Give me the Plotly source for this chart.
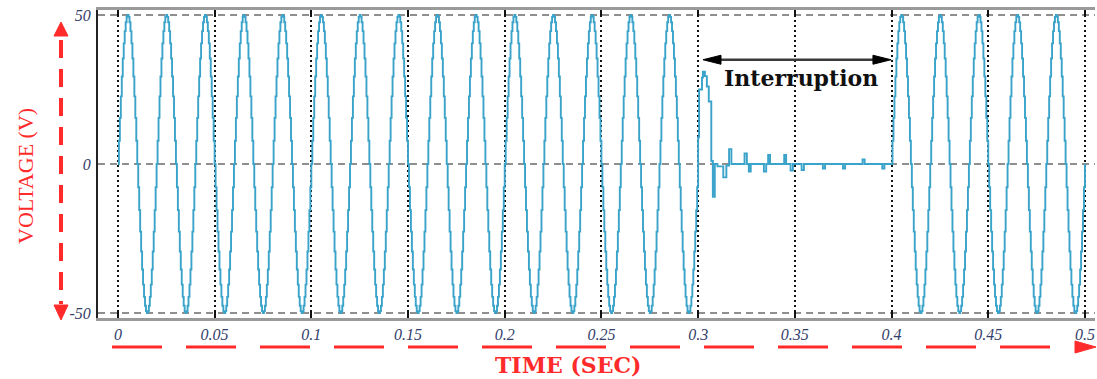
import numpy as np
import plotly.graph_objects as go

# ---------------- data ----------------
sample_step = 0.0005          # s, zero-order-hold sampling of the waveform
# one 50 Hz cycle of the sampled supply voltage (V), 40 samples
cycle_values = [0.0, 7.8, 15.5, 22.7, 29.4, 35.4, 40.5, 44.6, 47.6, 49.4,
                50.0, 49.4, 47.6, 44.6, 40.5, 35.4, 29.4, 22.7, 15.5, 7.8,
                0.0, -7.8, -15.5, -22.7, -29.4, -35.4, -40.5, -44.6, -47.6, -49.4,
                -50.0, -49.4, -47.6, -44.6, -40.5, -35.4, -29.4, -22.7, -15.5, -7.8]
cycles_before = 15            # 0 .. 0.3 s
cycles_after = 5              # 0.4 .. 0.5 s
interruption_start = 0.3
interruption_end = 0.4

# transient / ringing during the interruption
trans_t = [0.3000, 0.3005, 0.3020, 0.3025, 0.3035, 0.3045, 0.3055, 0.3068, 0.3076,
           0.3086, 0.3100, 0.3130, 0.3146, 0.3160, 0.3172, 0.3240, 0.3252, 0.3262,
           0.3272, 0.3340, 0.3352, 0.3362, 0.3372, 0.3445, 0.3455, 0.3478, 0.3490,
           0.3535, 0.3547, 0.3645, 0.3656, 0.3749, 0.3760, 0.3850, 0.3861, 0.3952,
           0.3963]
trans_v = [9.0, 25.0, 29.0, 31.0, 29.5, 26.0, 21.0, 1.0, -11.0,
           0.0, -0.8, -4.5, -0.5, 5.0, 0.0, 3.5, 0.0, -2.5,
           0.0, -2.5, 0.0, 3.0, 0.0, 3.0, 0.0, -2.2, 0.0,
           -2.0, 0.0, -1.5, 0.0, -1.5, 0.0, 1.5, 0.0, -1.5,
           0.0]

x_tick_vals = [0, 0.05, 0.1, 0.15, 0.2, 0.25, 0.3, 0.35, 0.4, 0.45, 0.5]
x_tick_text = ["0", "0.05", "0.1", "0.15", "0.2", "0.25", "0.3", "0.35", "0.4", "0.45", "0.5"]
y_tick_vals = [-50, 0, 50]
y_tick_text = ["-50", "0", "50"]

# ---------------- build series ----------------
pre_v = cycle_values * cycles_before
pre_t = list(np.round(np.arange(len(pre_v)) * sample_step, 4))
post_v = cycle_values * cycles_after + [0.0]
post_t = list(np.round(interruption_end + np.arange(len(post_v)) * sample_step, 4))

t_all = pre_t + trans_t + post_t
v_all = pre_v + trans_v + post_v

# ---------------- layout geometry ----------------
W, H = 1097, 379
ML, MR, MT, MB = 98, 2, 10, 61
PW, PH = W - ML - MR, H - MT - MB


def px(x):
    return (x - ML) / PW


def py(y):
    return (H - MB - y) / PH


RED = "#ff2b2b"
LINE = "#3aa3ca"

fig = go.Figure()
fig.add_trace(go.Scatter(x=t_all, y=v_all, mode="lines",
                         line=dict(color=LINE, width=1.9, shape="hv"),
                         hoverinfo="skip", showlegend=False))

shapes = []
# interruption double arrow (data coords)
arr_y = 35
xs_per_px = (0.5 + 0.0103 + 0.0052) / PW
ys_per_px = 103.4 / PH
head_len = 18 * xs_per_px
head_half = 4.5 * ys_per_px
a0 = interruption_start + 0.0025
a1 = interruption_end - 0.0003
shapes.append(dict(type="line", xref="x", yref="y", x0=a0 + head_len * 0.5, x1=a1 - head_len * 0.5,
                   y0=arr_y, y1=arr_y, line=dict(color="#3a3a3a", width=2.5)))
shapes.append(dict(type="path", xref="x", yref="y",
                   path=f"M {a0},{arr_y} L {a0 + head_len},{arr_y + head_half} L {a0 + head_len},{arr_y - head_half} Z",
                   fillcolor="black", line=dict(color="black", width=1)))
shapes.append(dict(type="path", xref="x", yref="y",
                   path=f"M {a1},{arr_y} L {a1 - head_len},{arr_y + head_half} L {a1 - head_len},{arr_y - head_half} Z",
                   fillcolor="black", line=dict(color="black", width=1)))

# red dashed horizontal arrow (time)
shapes.append(dict(type="line", xref="paper", yref="paper",
                   x0=px(112), x1=px(1074), y0=py(347), y1=py(347),
                   line=dict(color=RED, width=3, dash="50px,24px")))
shapes.append(dict(type="path", xref="paper", yref="paper",
                   path=f"M {px(1096)},{py(347)} L {px(1075)},{py(341)} L {px(1075)},{py(353)} Z",
                   fillcolor=RED, line=dict(color=RED, width=1)))
# red dashed vertical arrow (voltage)
shapes.append(dict(type="line", xref="paper", yref="paper",
                   x0=px(61), x1=px(61), y0=py(40), y1=py(304),
                   line=dict(color=RED, width=4, dash="18px,11px")))
shapes.append(dict(type="path", xref="paper", yref="paper",
                   path=f"M {px(61)},{py(22)} L {px(54)},{py(36)} L {px(68)},{py(36)} Z",
                   fillcolor=RED, line=dict(color=RED, width=1)))
shapes.append(dict(type="path", xref="paper", yref="paper",
                   path=f"M {px(61)},{py(320)} L {px(54)},{py(305)} L {px(68)},{py(305)} Z",
                   fillcolor=RED, line=dict(color=RED, width=1)))

annotations = [
    dict(x=(interruption_start + interruption_end) / 2 + 0.003, y=29.0, xref="x", yref="y",
         xanchor="center", yanchor="middle",
         text="Interruption", showarrow=False,
         font=dict(family="DejaVu Serif", size=22, color="#111111", weight="bold")),
    dict(x=px(568), y=py(365), xref="paper", yref="paper", text="TIME (SEC)",
         xanchor="center", yanchor="middle", showarrow=False,
         font=dict(family="DejaVu Serif", size=22, color=RED, weight="bold")),
    dict(x=px(25), y=py(176), xref="paper", yref="paper", text="VOLTAGE (V)",
         xanchor="center", yanchor="middle", showarrow=False, textangle=-90,
         font=dict(family="Liberation Serif", size=22, color=RED)),
]

tick_font = dict(family="Liberation Serif", size=16, color="#33406a", style="italic")

fig.update_layout(
    width=W, height=H,
    margin=dict(l=ML, r=MR, t=MT, b=MB, pad=0),
    paper_bgcolor="white", plot_bgcolor="white",
    shapes=shapes, annotations=annotations,
    xaxis=dict(range=[-0.0103, 0.5052], tickvals=x_tick_vals, ticktext=x_tick_text,
               showgrid=True, gridcolor="#111111", griddash="2px,3px", gridwidth=1.6,
               zeroline=False, showline=True, linecolor="#9a9a9a", linewidth=3,
               mirror="ticks", ticks="inside", ticklen=6, tickwidth=2, tickcolor="#111111",
               tickfont=tick_font, ticklabelstandoff=0, fixedrange=True),
    yaxis=dict(range=[-51.7, 51.7], tickvals=y_tick_vals, ticktext=y_tick_text,
               showgrid=True, gridcolor="#8f8f8f", griddash="7px,5px", gridwidth=2,
               zeroline=False, showline=True, linecolor="#222222", linewidth=2,
               mirror=False, ticks="", tickfont=tick_font, ticklabelstandoff=2,
               fixedrange=True),
)

fig.write_html("out.html")
